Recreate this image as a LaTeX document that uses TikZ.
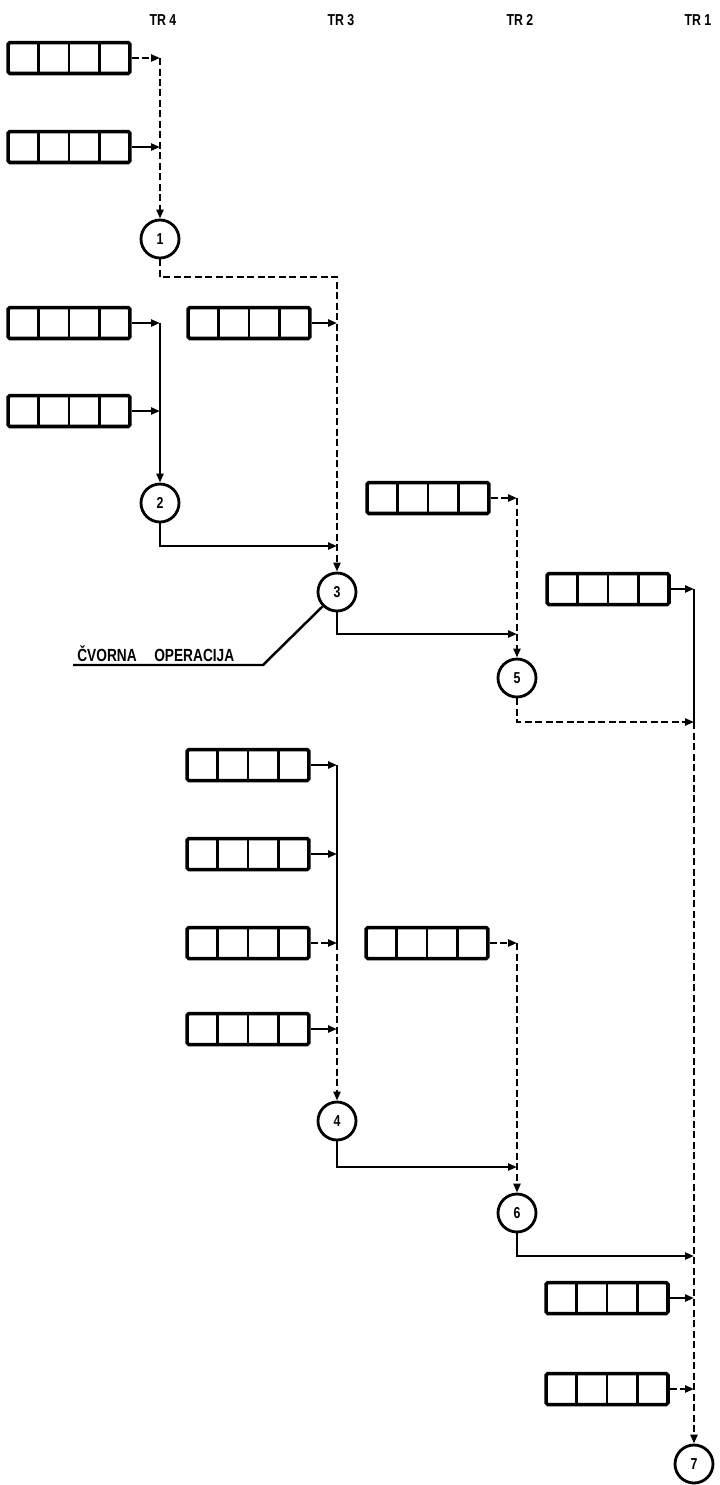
\documentclass[tikz,border=0pt]{standalone}
\usepackage{fontspec}
\setmainfont{Liberation Sans}
\newfontfamily\narrowfont[FakeStretch=0.78]{Liberation Sans}
\usetikzlibrary{arrows.meta}
\tikzset{
  record/.style = {
    rectangle,
    draw=black,
    line width=2pt,
    rounded corners=1pt,
    minimum width=2.44cm,
    minimum height=0.62cm,
    inner sep=0pt,
    path picture={
      \foreach \k in {-1,0,1}
        \draw[line width=1.3pt] ([xshift=\k*0.61cm]path picture bounding box.north)
          -- ([xshift=\k*0.61cm]path picture bounding box.south);
    }
  },
  op/.style = {
    circle,
    draw=black,
    line width=1.6pt,
    minimum size=0.76cm,
    inner sep=0pt,
    font=\narrowfont\bfseries\small
  },
  header/.style = {
    font=\narrowfont\bfseries\small
  },
  note/.style = {
    font=\narrowfont\bfseries,
    inner xsep=0.08cm,
    inner ysep=0.06cm
  },
  link/.style = {
    line width=1.4pt
  },
  link_dashed/.style = {
    line width=1.4pt,
    dash pattern=on 1.4mm off 0.7mm
  },
  flow/.style = {
    line width=1.4pt,
    -{Triangle[length=1.8mm,width=1.4mm]}
  },
  flow_dashed/.style = {
    line width=1.4pt,
    dash pattern=on 1.4mm off 0.7mm,
    -{Triangle[length=1.8mm,width=1.4mm]}
  }
}

\begin{document}
\begin{tikzpicture}[x=0.02cm, y=-0.02cm]
\useasboundingbox (0,0) rectangle (720,1485);

% Kolone
\node[header] (tr4) at (163,20) {TR 4};
\node[header] (tr3) at (341,20) {TR 3};
\node[header] (tr2) at (520,20) {TR 2};
\node[header] (tr1) at (698,20) {TR 1};

% Operacije
\node[op] (op1) at (160,239) {1};
\node[op] (op2) at (160,503) {2};
\node[op] (op3) at (337,592) {3};
\node[op] (op4) at (337,1121) {4};
\node[op] (op5) at (517,678) {5};
\node[op] (op6) at (517,1213) {6};
\node[op] (op7) at (694,1464) {7};

% Ulazi TR4
\node[record] (q1) at (69,58) {};
\node[record] (q2) at (69,147) {};
\node[record] (q3) at (69,323) {};
\node[record] (q4) at (69,411) {};

% Ulazi TR3
\node[record] (q5) at (249,323) {};
\node[record] (q8) at (248,765) {};
\node[record] (q9) at (248,854) {};
\node[record] (q10) at (248,943) {};
\node[record] (q11) at (248,1029) {};

% Ulazi TR2
\node[record] (q6) at (428,498) {};
\node[record] (q12) at (427,943) {};

% Ulazi TR1
\node[record] (q7) at (608,589) {};
\node[record] (q13) at (607,1298) {};
\node[record] (q14) at (607,1389) {};

% Tocke spajanja
\coordinate (t1) at (q1 -| op1);
\coordinate (t2) at (q2 -| op1);
\coordinate (t3) at (q3 -| op2);
\coordinate (t4) at (q4 -| op2);
\coordinate (t5) at (q5 -| op3);
\coordinate (k1) at (160,277);
\coordinate (k3) at (k1 -| op3);
\coordinate (u2) at (337,546);
\coordinate (u3) at (517,634);
\coordinate (t6) at (q6 -| op5);
\coordinate (t7) at (q7 -| op7);
\coordinate (u5) at (694,722);
\coordinate (w8) at (q8 -| op4);
\coordinate (w9) at (q9 -| op4);
\coordinate (w10) at (q10 -| op4);
\coordinate (w11) at (q11 -| op4);
\coordinate (w12) at (q12 -| op6);
\coordinate (u4) at (517,1167);
\coordinate (u6) at (694,1256);
\coordinate (w13) at (q13 -| op7);
\coordinate (w14) at (q14 -| op7);
\coordinate (kn) at (263,665);

% Napomena
\node[note, anchor=south west] (note) at (73,665) {ČVORNA\quad OPERACIJA};

% Veze TR4
\draw[flow_dashed] (q1) -- (t1);
\draw[flow] (q2) -- (t2);
\draw[flow_dashed] (t1) -- (op1);
\draw[flow] (q3) -- (t3);
\draw[flow] (q4) -- (t4);
\draw[link] (t3) -- (t4);
\draw[flow] (t4) -- (op2);

% Veze TR3
\draw[flow_dashed] (op1) -- (k1) -- (k3) -- (op3);
\draw[flow] (q5) -- (t5);
\draw[flow] (op2) |- (u2);
\draw[link] (op3.225) -- (kn) -- (note.south west);
\draw[flow] (q8) -- (w8);
\draw[flow] (q9) -- (w9);
\draw[flow_dashed] (q10) -- (w10);
\draw[flow] (q11) -- (w11);
\draw[link] (w8) -- (w10);
\draw[flow_dashed] (w10) -- (op4);

% Veze TR2
\draw[flow] (op3) |- (u3);
\draw[flow_dashed] (q6) -- (t6);
\draw[flow_dashed] (t6) -- (op5);
\draw[flow_dashed] (q12) -- (w12);
\draw[flow_dashed] (w12) -- (op6);
\draw[flow] (op4) |- (u4);

% Veze TR1
\draw[flow] (q7) -- (t7);
\draw[link] (t7) -- (u5);
\draw[flow_dashed] (op5) |- (u5);
\draw[flow_dashed] (u5) -- (op7);
\draw[flow] (op6) |- (u6);
\draw[flow] (q13) -- (w13);
\draw[flow_dashed] (q14) -- (w14);

\end{tikzpicture}
\end{document}
